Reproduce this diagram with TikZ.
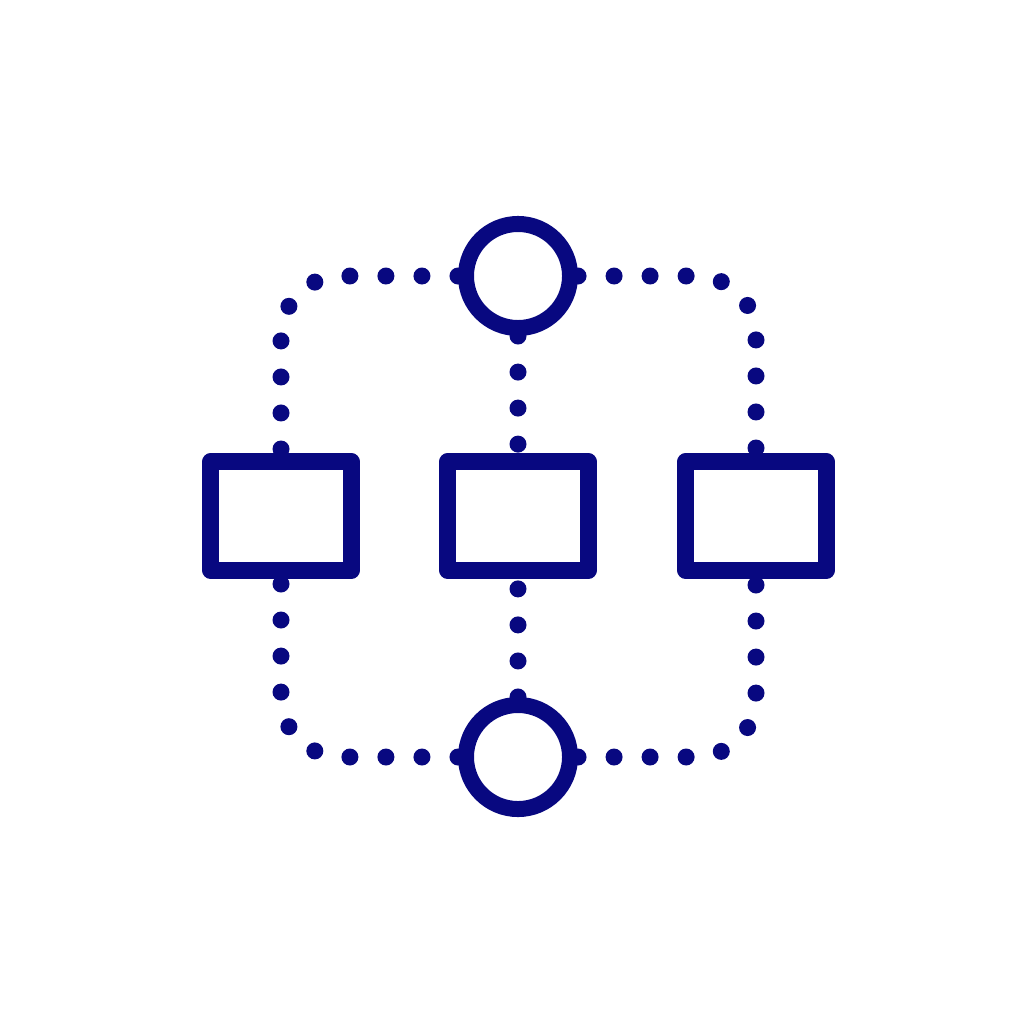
\documentclass[tikz,border=0pt]{standalone}
\usepackage{xcolor}
\usepackage{tikz}
\usetikzlibrary{shapes,arrows.meta}
\definecolor{navy}{RGB}{8,8,128}

\begin{document}
\begin{tikzpicture}[
    x=0.01cm, y=-0.01cm,
    hub/.style={circle, draw=navy, line width=0.16cm, minimum size=1.04cm, inner sep=0pt},
    panel/.style={rectangle, draw=navy, line width=0.17cm, minimum width=1.41cm, minimum height=1.08cm, line join=round},
    dots/.style={navy, line width=0.17cm, line cap=round, dash pattern=on 0pt off 0.36cm},
    bent/.style={dots, rounded corners=0.6cm}
]
    \fill[white] (0,0) rectangle (1028,1024);
    \useasboundingbox (0,0) rectangle (1028,1024);

    \node[hub] (top) at (518,276) {};
    \node[hub] (bot) at (518,757) {};
    \node[panel] (p1) at (281,516) {};
    \node[panel] (p2) at (518,516) {};
    \node[panel] (p3) at (756,516) {};

    \draw[bent] (top.west) -| (p1.north);
    \draw[bent] (top.east) -| (p3.north);
    \draw[dots] (top.south) -- (p2.north);
    \draw[bent] (bot.west) -| (p1.south);
    \draw[bent] (bot.east) -| (p3.south);
    \draw[dots] (bot.north) -- (p2.south);
\end{tikzpicture}
\end{document}
